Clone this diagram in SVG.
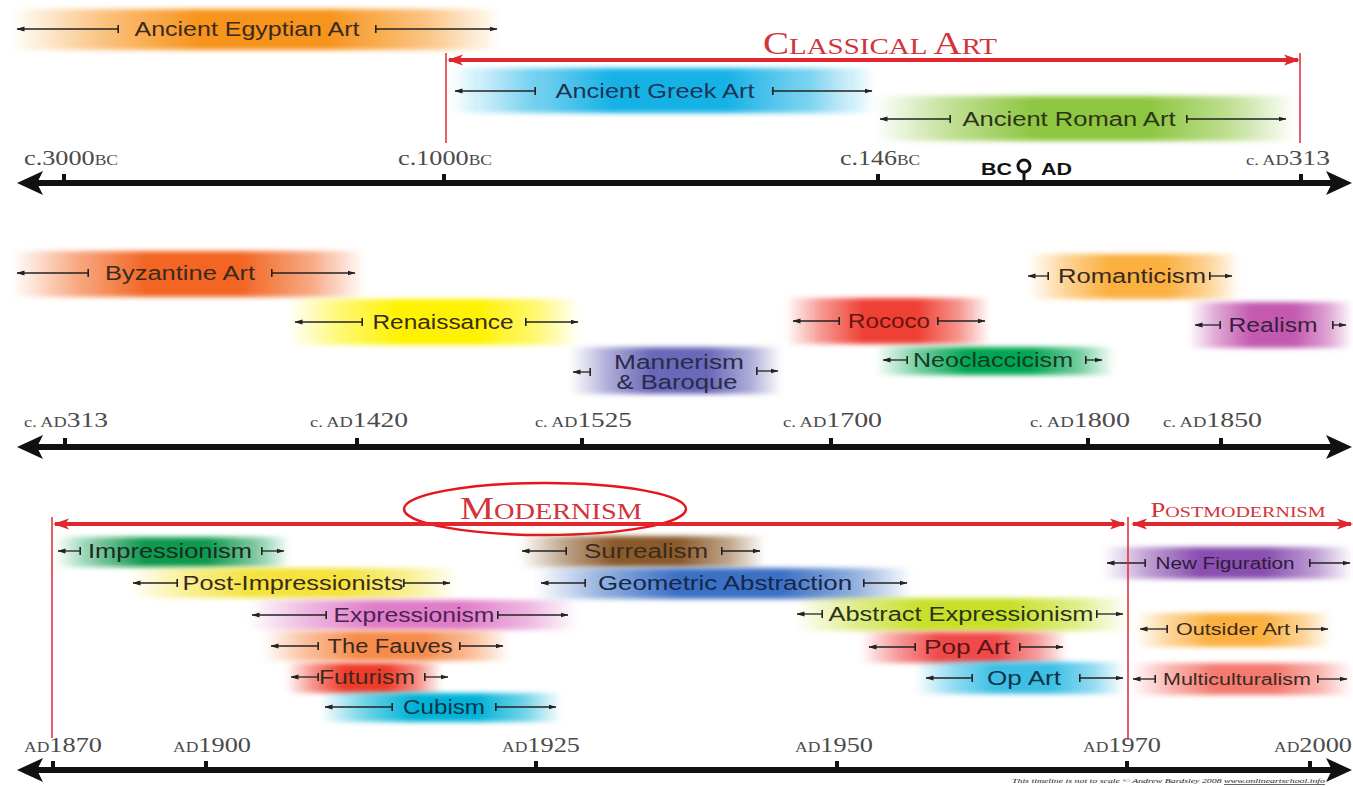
<svg xmlns="http://www.w3.org/2000/svg" width="1353" height="787" viewBox="0 0 1353 787">
<style>
.bl{font-family:"Liberation Sans","DejaVu Sans",sans-serif;font-size:20px;fill:#3a2a1e;text-anchor:middle}
.bs{font-size:16px}
.dl{font-family:"Liberation Serif","DejaVu Serif",serif;font-size:21px;fill:#4a4a4a}
.sm{font-size:14px}
.rl{stroke:#222;stroke-width:1.3;fill:none;marker-start:url(#tk);marker-end:url(#ah)}
.ax{stroke:#111;stroke-width:6;fill:none}
.tick{fill:#111}
.red{stroke:#e3262d;stroke-width:4;fill:none;marker-start:url(#rh);marker-end:url(#rh)}
.rv{stroke:#e3262d;stroke-width:1.5}
.ttl{font-family:"Liberation Serif","DejaVu Serif",serif;fill:#d3333a}
</style>
<defs>
<linearGradient id="fg"><stop offset="0" stop-color="#fff" stop-opacity="0"/><stop offset=".18" stop-color="#fff" stop-opacity=".55"/><stop offset=".38" stop-color="#fff" stop-opacity="1"/><stop offset=".65" stop-color="#fff" stop-opacity="1"/><stop offset=".85" stop-color="#fff" stop-opacity=".55"/><stop offset="1" stop-color="#fff" stop-opacity="0"/></linearGradient>
<mask id="fade" maskContentUnits="objectBoundingBox"><rect width="1" height="1" fill="url(#fg)"/></mask>
<filter id="soft" x="-5%" y="-30%" width="110%" height="160%"><feGaussianBlur stdDeviation="2.5"/></filter>
<marker id="ah" viewBox="0 0 8 6" refX="7.5" refY="3" markerWidth="8" markerHeight="6" markerUnits="userSpaceOnUse" orient="auto"><path d="M0,0.6 L8,3 L0,5.4 z" fill="#222"/></marker>
<marker id="tk" viewBox="0 0 2 8" refX="1" refY="4" markerWidth="2" markerHeight="8" markerUnits="userSpaceOnUse" orient="auto"><rect width="1.6" height="8" fill="#222"/></marker>
<marker id="rh" viewBox="0 0 16 12" refX="14" refY="6" markerWidth="16" markerHeight="12" markerUnits="userSpaceOnUse" orient="auto-start-reverse"><path d="M0,0.5 L16,6 L0,11.5 L4,6 z" fill="#e3262d"/></marker>
</defs>
<rect width="1353" height="787" fill="#fff"/>

<!-- Row 1 -->
<g id="egyptian"><g filter="url(#soft)"><rect x="12" y="9" width="488" height="41" fill="#f7941d" mask="url(#fade)"/></g>
<line class="rl" x1="118" y1="29" x2="17" y2="29"/><line class="rl" x1="376" y1="29" x2="497" y2="29"/>
<text class="bl" x="247" y="36" textLength="225" lengthAdjust="spacingAndGlyphs" fill="#4a2a14">Ancient Egyptian Art</text></g>

<g id="greek"><g filter="url(#soft)"><rect x="450" y="68" width="425" height="45" fill="#19b2e6" mask="url(#fade)"/></g>
<line class="rl" x1="535" y1="91" x2="455" y2="91"/><line class="rl" x1="773" y1="91" x2="872" y2="91"/>
<text class="bl" x="655" y="98" textLength="199" lengthAdjust="spacingAndGlyphs" style="fill:#1c3456">Ancient Greek Art</text></g>

<g id="roman"><g filter="url(#soft)"><rect x="875" y="96" width="420" height="45" fill="#8dc63f" mask="url(#fade)"/></g>
<line class="rl" x1="950" y1="119" x2="880" y2="119"/><line class="rl" x1="1187" y1="119" x2="1286" y2="119"/>
<text class="bl" x="1069" y="126" textLength="213" lengthAdjust="spacingAndGlyphs" style="fill:#2c3418">Ancient Roman Art</text></g>

<g id="classical"><text class="ttl" x="880" y="54" text-anchor="middle" textLength="234" lengthAdjust="spacingAndGlyphs"><tspan font-size="31">C</tspan><tspan font-size="23">LASSICAL </tspan><tspan font-size="31">A</tspan><tspan font-size="23">RT</tspan></text></g>

<!-- Row 2 -->
<g id="byzantine"><g filter="url(#soft)"><rect x="12" y="251" width="353" height="46" fill="#f26522" mask="url(#fade)"/></g>
<line class="rl" x1="88" y1="273" x2="17" y2="273"/><line class="rl" x1="272" y1="273" x2="355" y2="273"/>
<text class="bl" x="180" y="280" textLength="150" lengthAdjust="spacingAndGlyphs">Byzantine Art</text></g>

<g id="renaissance"><g filter="url(#soft)"><rect x="288" y="299" width="292" height="46" fill="#fff200" mask="url(#fade)"/></g>
<line class="rl" x1="362" y1="322" x2="295" y2="322"/><line class="rl" x1="526" y1="322" x2="578" y2="322"/>
<text class="bl" x="443" y="329" textLength="141" lengthAdjust="spacingAndGlyphs">Renaissance</text></g>

<g id="mannerism"><g filter="url(#soft)"><rect x="570" y="347" width="212" height="47" fill="#6a68b8" mask="url(#fade)"/></g>
<line class="rl" x1="590" y1="372" x2="573" y2="372"/><line class="rl" x1="757" y1="371" x2="778" y2="371"/>
<text class="bl" x="679" y="369" textLength="130" lengthAdjust="spacingAndGlyphs" style="fill:#2a2a4a">Mannerism</text>
<text class="bl" x="677" y="389" textLength="121" lengthAdjust="spacingAndGlyphs" style="fill:#2a2a4a">&amp; Baroque</text></g>

<g id="rococo"><g filter="url(#soft)"><rect x="785" y="298" width="205" height="46" fill="#ef4136" mask="url(#fade)"/></g>
<line class="rl" x1="839" y1="321" x2="793" y2="321"/><line class="rl" x1="938" y1="321" x2="985" y2="321"/>
<text class="bl" x="889" y="328" textLength="82" lengthAdjust="spacingAndGlyphs" style="fill:#6a1410">Rococo</text></g>

<g id="neoclassicism"><g filter="url(#soft)"><rect x="875" y="347" width="240" height="28" fill="#00a651" mask="url(#fade)"/></g>
<line class="rl" x1="907" y1="360" x2="883" y2="360"/><line class="rl" x1="1086" y1="360" x2="1102" y2="360"/>
<text class="bl" x="993" y="367" textLength="160" lengthAdjust="spacingAndGlyphs" style="fill:#173a24">Neoclaccicism</text></g>

<g id="romanticism"><g filter="url(#soft)"><rect x="1028" y="254" width="212" height="45" fill="#fbb040" mask="url(#fade)"/></g>
<line class="rl" x1="1048" y1="276" x2="1028" y2="276"/><line class="rl" x1="1210" y1="276" x2="1232" y2="276"/>
<text class="bl" x="1132" y="283" textLength="148" lengthAdjust="spacingAndGlyphs">Romanticism</text></g>

<g id="realism"><g filter="url(#soft)"><rect x="1188" y="302" width="165" height="46" fill="#c45ab0" mask="url(#fade)"/></g>
<line class="rl" x1="1220" y1="325" x2="1195" y2="325"/><line class="rl" x1="1333" y1="325" x2="1346" y2="325"/>
<text class="bl" x="1273" y="332" textLength="89" lengthAdjust="spacingAndGlyphs" style="fill:#3a2040">Realism</text></g>

<!-- Row 3 -->
<g id="modernism"><text class="ttl" x="551" y="519" text-anchor="middle" textLength="182" lengthAdjust="spacingAndGlyphs"><tspan font-size="31">M</tspan><tspan font-size="23">ODERNISM</tspan></text>
<ellipse cx="545" cy="509" rx="141" ry="26" fill="none" stroke="#e8141c" stroke-width="2.5"/></g>
<g id="postmodernism"><text class="ttl" x="1238" y="517" text-anchor="middle" textLength="175" lengthAdjust="spacingAndGlyphs"><tspan font-size="20">P</tspan><tspan font-size="15">OSTMODERNISM</tspan></text></g>

<g id="impressionism"><g filter="url(#soft)"><rect x="55" y="537" width="235" height="30" fill="#0f9a4e" mask="url(#fade)"/></g>
<line class="rl" x1="80" y1="551" x2="58" y2="551"/><line class="rl" x1="262" y1="551" x2="284" y2="551"/>
<text class="bl" x="170" y="558" textLength="164" lengthAdjust="spacingAndGlyphs" style="fill:#1a2a22">Impressionism</text></g>

<g id="postimpressionists"><g filter="url(#soft)"><rect x="128" y="568" width="330" height="30" fill="#f3e33a" mask="url(#fade)"/></g>
<line class="rl" x1="177" y1="583" x2="133" y2="583"/><line class="rl" x1="404" y1="583" x2="450" y2="583"/>
<text class="bl" x="293" y="590" textLength="221" lengthAdjust="spacingAndGlyphs">Post-Impressionists</text></g>

<g id="expressionism"><g filter="url(#soft)"><rect x="248" y="600" width="330" height="30" fill="#e07dc8" mask="url(#fade)"/></g>
<line class="rl" x1="326" y1="615" x2="252" y2="615"/><line class="rl" x1="498" y1="615" x2="568" y2="615"/>
<text class="bl" x="414" y="622" textLength="161" lengthAdjust="spacingAndGlyphs" style="fill:#4a2450">Expressionism</text></g>

<g id="fauves"><g filter="url(#soft)"><rect x="262" y="631" width="248" height="30" fill="#f68b4c" mask="url(#fade)"/></g>
<line class="rl" x1="318" y1="646" x2="271" y2="646"/><line class="rl" x1="460" y1="646" x2="503" y2="646"/>
<text class="bl" x="390" y="653" textLength="125" lengthAdjust="spacingAndGlyphs">The Fauves</text></g>

<g id="futurism"><g filter="url(#soft)"><rect x="285" y="663" width="157" height="30" fill="#ef3b2a" mask="url(#fade)"/></g>
<line class="rl" x1="318" y1="677" x2="291" y2="677"/><line class="rl" x1="425" y1="677" x2="448" y2="677"/>
<text class="bl" x="367" y="684" textLength="96" lengthAdjust="spacingAndGlyphs">Futurism</text></g>

<g id="cubism"><g filter="url(#soft)"><rect x="320" y="693" width="242" height="29" fill="#00b3d6" mask="url(#fade)"/></g>
<line class="rl" x1="392" y1="707" x2="325" y2="707"/><line class="rl" x1="496" y1="707" x2="556" y2="707"/>
<text class="bl" x="444" y="714" textLength="82" lengthAdjust="spacingAndGlyphs" style="fill:#0f3448">Cubism</text></g>

<g id="surrealism"><g filter="url(#soft)"><rect x="520" y="536" width="245" height="31" fill="#8b5a2b" mask="url(#fade)"/></g>
<line class="rl" x1="566" y1="551" x2="522" y2="551"/><line class="rl" x1="722" y1="551" x2="760" y2="551"/>
<text class="bl" x="646" y="558" textLength="124" lengthAdjust="spacingAndGlyphs">Surrealism</text></g>

<g id="geometric"><g filter="url(#soft)"><rect x="535" y="568" width="377" height="31" fill="#3a6fc4" mask="url(#fade)"/></g>
<line class="rl" x1="585" y1="583" x2="541" y2="583"/><line class="rl" x1="864" y1="583" x2="907" y2="583"/>
<text class="bl" x="725" y="590" textLength="254" lengthAdjust="spacingAndGlyphs" style="fill:#14284a">Geometric Abstraction</text></g>

<g id="abstractexp"><g filter="url(#soft)"><rect x="795" y="598" width="333" height="33" fill="#c8e02a" mask="url(#fade)"/></g>
<line class="rl" x1="822" y1="614" x2="797" y2="614"/><line class="rl" x1="1097" y1="614" x2="1123" y2="614"/>
<text class="bl" x="961" y="621" textLength="265" lengthAdjust="spacingAndGlyphs" style="fill:#2a3418">Abstract Expressionism</text></g>

<g id="popart"><g filter="url(#soft)"><rect x="860" y="632" width="208" height="31" fill="#f04848" mask="url(#fade)"/></g>
<line class="rl" x1="915" y1="647" x2="869" y2="647"/><line class="rl" x1="1020" y1="647" x2="1063" y2="647"/>
<text class="bl" x="967" y="654" textLength="86" lengthAdjust="spacingAndGlyphs" style="fill:#5a1418">Pop Art</text></g>

<g id="opart"><g filter="url(#soft)"><rect x="915" y="662" width="210" height="32" fill="#3cbfe6" mask="url(#fade)"/></g>
<line class="rl" x1="972" y1="678" x2="926" y2="678"/><line class="rl" x1="1080" y1="678" x2="1123" y2="678"/>
<text class="bl" x="1024" y="685" textLength="74" lengthAdjust="spacingAndGlyphs" style="fill:#0f3448">Op Art</text></g>

<g id="newfiguration"><g filter="url(#soft)"><rect x="1103" y="547" width="250" height="32" fill="#8a4fb0" mask="url(#fade)"/></g>
<line class="rl" x1="1145" y1="563" x2="1107" y2="563"/><line class="rl" x1="1310" y1="563" x2="1350" y2="563"/>
<text class="bl bs" x="1225" y="569" textLength="139" lengthAdjust="spacingAndGlyphs" style="fill:#2a1c3a">New Figuration</text></g>

<g id="outsider"><g filter="url(#soft)"><rect x="1135" y="613" width="197" height="34" fill="#fbb040" mask="url(#fade)"/></g>
<line class="rl" x1="1167" y1="629" x2="1140" y2="629"/><line class="rl" x1="1297" y1="629" x2="1328" y2="629"/>
<text class="bl bs" x="1233" y="635" textLength="114" lengthAdjust="spacingAndGlyphs">Outsider Art</text></g>

<g id="multiculturalism"><g filter="url(#soft)"><rect x="1130" y="663" width="223" height="32" fill="#f47a70" mask="url(#fade)"/></g>
<line class="rl" x1="1155" y1="679" x2="1133" y2="679"/><line class="rl" x1="1318" y1="679" x2="1347" y2="679"/>
<text class="bl bs" x="1237" y="685" textLength="148" lengthAdjust="spacingAndGlyphs">Multiculturalism</text></g>

<!-- Connectors: axes and period ranges -->
<g id="connectors">
<line class="rv" x1="446" y1="53" x2="446" y2="143"/>
<line class="rv" x1="1300" y1="53" x2="1300" y2="143"/>
<line class="red" x1="449" y1="60" x2="1298" y2="60"/>
<line class="rv" x1="52" y1="517" x2="52" y2="738"/>
<line class="rv" x1="1128" y1="517" x2="1128" y2="740"/>
<line class="red" x1="55" y1="524" x2="1124" y2="524"/>
<line class="red" x1="1133" y1="524" x2="1351" y2="524"/>

<g id="axis1">
<line class="ax" x1="30" y1="183" x2="1340" y2="183"/>
<path d="M17,183 L43,171 L37,183 L43,195 z M1352,183 L1326,171 L1332,183 L1326,195 z" fill="#111"/>
<rect class="tick" x="62" y="174" width="4" height="9"/><rect class="tick" x="442" y="174" width="4" height="9"/><rect class="tick" x="876" y="174" width="4" height="9"/><rect class="tick" x="1299" y="174" width="4" height="9"/>
</g>
<g id="axis2">
<line class="ax" x1="30" y1="447" x2="1340" y2="447"/>
<path d="M17,447 L43,435 L37,447 L43,459 z M1352,447 L1326,435 L1332,447 L1326,459 z" fill="#111"/>
<rect class="tick" x="63" y="438" width="4" height="9"/><rect class="tick" x="355" y="438" width="4" height="9"/><rect class="tick" x="580" y="438" width="4" height="9"/><rect class="tick" x="829" y="438" width="4" height="9"/><rect class="tick" x="1086" y="438" width="4" height="9"/><rect class="tick" x="1219" y="438" width="4" height="9"/>
</g>
<g id="axis3">
<line class="ax" x1="30" y1="770" x2="1340" y2="770"/>
<path d="M17,770 L43,758 L37,770 L43,782 z M1352,770 L1326,758 L1332,770 L1326,782 z" fill="#111"/>
<rect class="tick" x="51" y="761" width="4" height="9"/><rect class="tick" x="204" y="761" width="4" height="9"/><rect class="tick" x="534" y="761" width="4" height="9"/><rect class="tick" x="835" y="761" width="4" height="9"/><rect class="tick" x="1125" y="761" width="4" height="9"/><rect class="tick" x="1308" y="761" width="4" height="9"/>
</g>
</g>

<g id="bcad">
<text x="981" y="175" font-family="Liberation Sans, DejaVu Sans, sans-serif" font-weight="bold" font-size="16" fill="#111" textLength="31" lengthAdjust="spacingAndGlyphs">BC</text>
<circle cx="1024" cy="166" r="6" fill="#fff" stroke="#111" stroke-width="3"/>
<line x1="1024" y1="172" x2="1024" y2="183" stroke="#111" stroke-width="3"/>
<text x="1041" y="175" font-family="Liberation Sans, DejaVu Sans, sans-serif" font-weight="bold" font-size="16" fill="#111" textLength="31" lengthAdjust="spacingAndGlyphs">AD</text>
</g>

<g id="dates">
<text class="dl" x="24" y="165" textLength="94" lengthAdjust="spacingAndGlyphs">c.3000<tspan class="sm">BC</tspan></text>
<text class="dl" x="398" y="165" textLength="94" lengthAdjust="spacingAndGlyphs">c.1000<tspan class="sm">BC</tspan></text>
<text class="dl" x="840" y="165" textLength="80" lengthAdjust="spacingAndGlyphs">c.146<tspan class="sm">BC</tspan></text>
<text class="dl" x="1246" y="165" textLength="84" lengthAdjust="spacingAndGlyphs"><tspan class="sm">c. AD</tspan>313</text>
<text class="dl" x="24" y="427" textLength="84" lengthAdjust="spacingAndGlyphs"><tspan class="sm">c. AD</tspan>313</text>
<text class="dl" x="310" y="427" textLength="98" lengthAdjust="spacingAndGlyphs"><tspan class="sm">c. AD</tspan>1420</text>
<text class="dl" x="535" y="427" textLength="97" lengthAdjust="spacingAndGlyphs"><tspan class="sm">c. AD</tspan>1525</text>
<text class="dl" x="783" y="427" textLength="99" lengthAdjust="spacingAndGlyphs"><tspan class="sm">c. AD</tspan>1700</text>
<text class="dl" x="1030" y="427" textLength="100" lengthAdjust="spacingAndGlyphs"><tspan class="sm">c. AD</tspan>1800</text>
<text class="dl" x="1163" y="427" textLength="99" lengthAdjust="spacingAndGlyphs"><tspan class="sm">c. AD</tspan>1850</text>
<text class="dl" x="24" y="752" textLength="78" lengthAdjust="spacingAndGlyphs"><tspan class="sm">AD</tspan>1870</text>
<text class="dl" x="173" y="752" textLength="78" lengthAdjust="spacingAndGlyphs"><tspan class="sm">AD</tspan>1900</text>
<text class="dl" x="502" y="752" textLength="78" lengthAdjust="spacingAndGlyphs"><tspan class="sm">AD</tspan>1925</text>
<text class="dl" x="795" y="752" textLength="78" lengthAdjust="spacingAndGlyphs"><tspan class="sm">AD</tspan>1950</text>
<text class="dl" x="1083" y="752" textLength="78" lengthAdjust="spacingAndGlyphs"><tspan class="sm">AD</tspan>1970</text>
<text class="dl" x="1274" y="752" textLength="78" lengthAdjust="spacingAndGlyphs"><tspan class="sm">AD</tspan>2000</text>
</g>

<g id="footer"><text x="1012" y="783" font-family="Liberation Serif, DejaVu Serif, serif" font-style="italic" font-size="7" fill="#222" textLength="313" lengthAdjust="spacingAndGlyphs">This timeline is not to scale © Andrew Bardsley 2008 <tspan text-decoration="underline">www.onlineartschool.info</tspan></text></g>
</svg>
